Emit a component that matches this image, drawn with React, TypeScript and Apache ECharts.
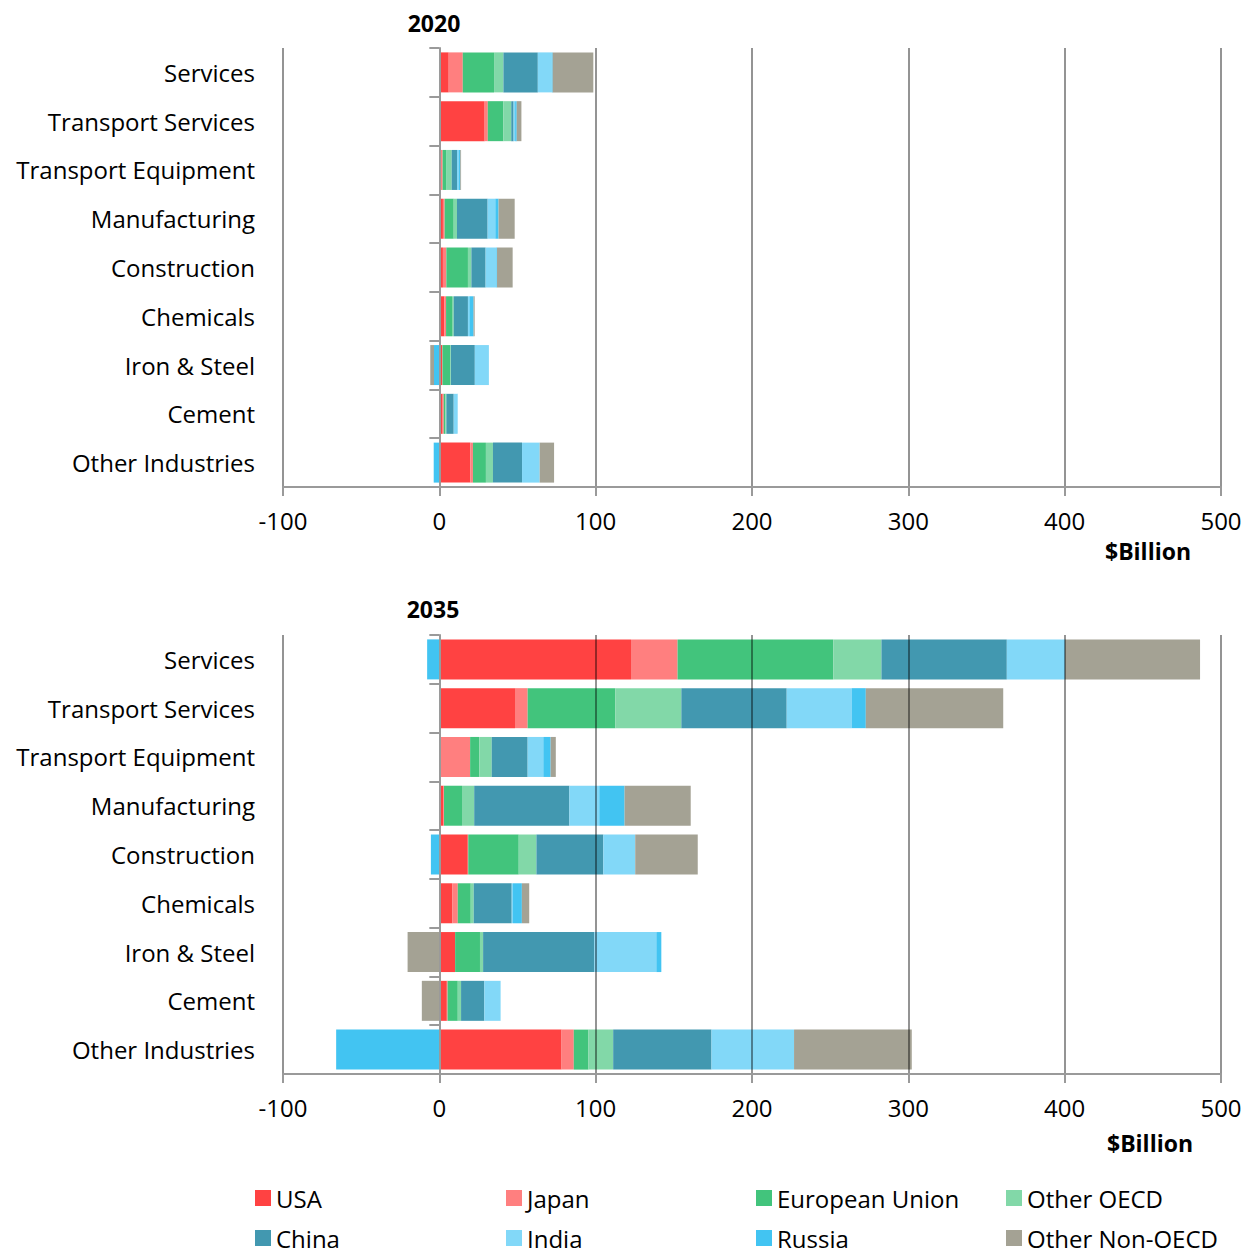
import React, { useEffect, useRef } from "react";
import * as echarts from "echarts";

const categories = [
  "Services",
  "Transport Services",
  "Transport Equipment",
  "Manufacturing",
  "Construction",
  "Chemicals",
  "Iron & Steel",
  "Cement",
  "Other Industries",
];

const seriesNames = ["USA", "Japan", "European Union", "Other OECD", "China", "India", "Russia", "Other Non-OECD"];
const seriesColors = ["#FF4242", "#FF7F7F", "#42C47C", "#82D8A8", "#4298B0", "#82D8F8", "#42C4F2", "#A4A294"];

// 2020 values ($Billion)
const usa2020 = [6, 29, 0.3, 2.3, 2.3, 3.2, 1.7, 2.1, 19.8];
const japan2020 = [9, 2, 1.8, 1.1, 2.2, 1.1, 0.3, 0.7, 1.7];
const eu2020 = [20, 10, 2.2, 5.8, 13.8, 3.8, 4.9, 1.0, 8.3];
const otherOecd2020 = [6, 5, 3.6, 2.1, 2.2, 1.1, 0.5, 0.7, 4.5];
const china2020 = [22, 1.5, 3.4, 19.6, 9.1, 9.1, 15.3, 4.7, 18.6];
const india2020 = [9, 1, 1.3, 4.9, 6.9, 0.9, 9.0, 2.1, 11.3];
const russia2020 = [0.5, 1, 0.8, 2.1, 0.4, 2.7, -3.4, 0.3, -3.6];
const otherNonOecd2020 = [26, 3, 0.5, 10.3, 10, 0.7, -2.4, 0, 9.2];

// 2035 values ($Billion)
const usa2035 = [122.6, 48.4, 0, 2.7, 18.2, 8.4, 10.1, 4.8, 78.2];
const japan2035 = [29.8, 8.1, 19.7, 0.3, 0.3, 3.4, 0, 0.5, 7.8];
const eu2035 = [99.6, 56.1, 5.9, 11.5, 32.3, 8.3, 15.9, 6.5, 9.4];
const otherOecd2035 = [30.8, 42.2, 7.9, 7.8, 11.3, 1.9, 2, 2.1, 15.8];
const china2035 = [80.2, 67.4, 23, 60.9, 42.8, 24.3, 71.2, 14.9, 62.9];
const india2035 = [37.2, 41.5, 10, 19.1, 20.4, 0.8, 39.6, 10.4, 52.8];
const russia2035 = [-7.8, 9.1, 4.7, 16.2, -5.4, 5.7, 3.2, 0, -66];
const otherNonOecd2035 = [86.4, 87.9, 3.3, 42.3, 40, 4.7, -20.3, -11.2, 75.3];

const data2020 = [usa2020, japan2020, eu2020, otherOecd2020, china2020, india2020, russia2020, otherNonOecd2020];
const data2035 = [usa2035, japan2035, eu2035, otherOecd2035, china2035, india2035, russia2035, otherNonOecd2035];

const xTickMin = -100;
const xTickMax = 500;
const xTickStep = 100;

const FONT = "Open Sans";
const AXIS_GRAY = "#9a9a9a";

export default function App() {
  const ref = useRef<HTMLDivElement>(null);

  useEffect(() => {
    if (!ref.current) return;
    const chart = echarts.init(ref.current, undefined, { renderer: "svg" });

    const grids = [
      { left: 283, top: 48, width: 938, height: 439 },
      { left: 283, top: 635, width: 938, height: 439 },
    ];

    const xAxes = grids.map((_, gi) => ({
      type: "value",
      gridIndex: gi,
      min: xTickMin,
      max: xTickMax,
      interval: xTickStep,
      z: 5,
      axisLine: { show: true, lineStyle: { color: AXIS_GRAY, width: 2 } },
      axisTick: { show: true, length: 9, lineStyle: { color: AXIS_GRAY, width: 2 } },
      axisLabel: { fontSize: 24, fontFamily: FONT, color: "#000", margin: 21 },
      splitLine: { show: true, lineStyle: { color: "rgba(0,0,0,0.42)", width: 2 } },
    }));

    const yAxes: any[] = [];
    grids.forEach((_, gi) => {
      yAxes.push({
        type: "category",
        gridIndex: gi,
        data: categories,
        inverse: true,
        position: "left",
        axisLine: { show: false, onZero: false },
        axisTick: { show: false },
        axisLabel: { fontSize: 24, fontFamily: FONT, color: "#000", margin: 28 },
      });
      yAxes.push({
        type: "category",
        gridIndex: gi,
        data: categories,
        inverse: true,
        position: "left",
        z: 5,
        axisLine: { show: true, onZero: true, lineStyle: { color: AXIS_GRAY, width: 2 } },
        axisTick: { show: true, length: 10, lineStyle: { color: AXIS_GRAY, width: 2 } },
        axisLabel: { show: false },
      });
    });

    const series: any[] = [];
    [data2020, data2035].forEach((set, gi) => {
      set.forEach((vals, si) => {
        series.push({
          type: "bar",
          name: seriesNames[si],
          xAxisIndex: gi,
          yAxisIndex: gi * 2,
          stack: "total" + gi,
          barCategoryGap: "18%",
          data: vals,
          itemStyle: { color: seriesColors[si] },
          emphasis: { disabled: true },
        });
      });
    });

    const legendCols = [255, 506, 756, 1006];
    const legendRows = [1186, 1226];
    const legends = seriesNames.map((name, i) => ({
      data: [name],
      left: legendCols[i % 4],
      top: legendRows[Math.floor(i / 4)],
      icon: "rect",
      itemWidth: 16,
      itemHeight: 16,
      padding: 0,
      textStyle: { fontSize: 24, fontFamily: FONT, color: "#000" },
    }));

    const titleStyle = { fontSize: 23, fontFamily: FONT, fontWeight: "bold", color: "#000" };

    chart.setOption({
      animation: false,
      color: seriesColors,
      title: [
        { text: "2020", left: 434, top: 11, textAlign: "center", padding: 0, textStyle: titleStyle },
        { text: "$Billion", left: 1148, top: 539, textAlign: "center", padding: 0, textStyle: titleStyle },
        { text: "2035", left: 433, top: 597, textAlign: "center", padding: 0, textStyle: titleStyle },
        { text: "$Billion", left: 1150, top: 1131, textAlign: "center", padding: 0, textStyle: titleStyle },
      ],
      grid: grids,
      xAxis: xAxes,
      yAxis: yAxes,
      legend: legends,
      series,
    });

    return () => chart.dispose();
  }, []);

  return (
    <div
      ref={ref}
      style={{ position: "fixed", left: 0, top: 0, width: 1248, height: 1259, background: "#fff" }}
    />
  );
}
